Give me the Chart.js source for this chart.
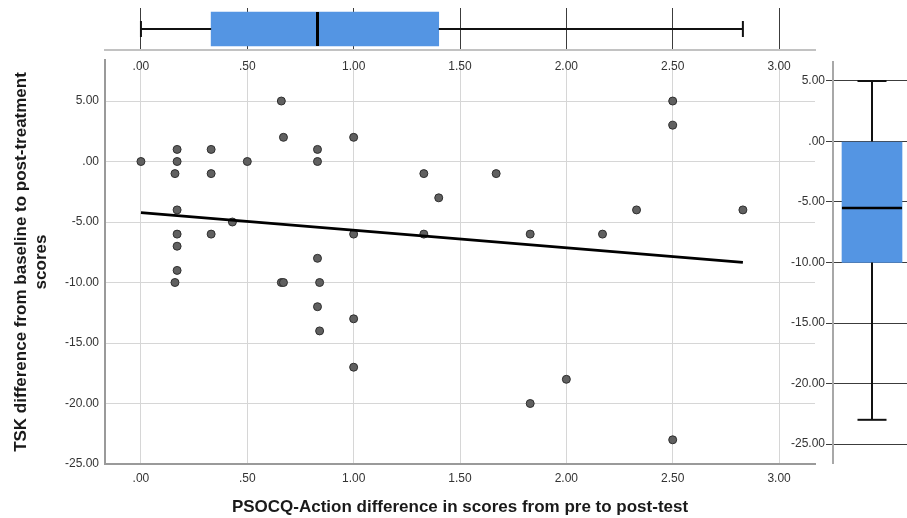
<!DOCTYPE html>
<html>
<head>
<meta charset="utf-8">
<script src="https://cdn.jsdelivr.net/npm/chart.js@4.4.0/dist/chart.umd.min.js"></script>
<style>
  html, body { margin: 0; padding: 0; background: #ffffff; overflow: hidden; width: 907px; height: 518px; }
  #wrap { position: relative; width: 907px; height: 518px; overflow: hidden; }
  canvas { position: absolute; }
</style>
</head>
<body>
<div id="wrap">
  <canvas id="main" width="907" height="518" style="left:0;top:0;"></canvas>
  <canvas id="topBox" width="907" height="90" style="left:0;top:0;"></canvas>
  <canvas id="rightBox" width="131" height="518" style="left:780px;top:0;"></canvas>
</div>
<script>
// ---------- data ----------
const psocqDiff = [0, 0.17, 0.17, 0.16, 0.17, 0.17, 0.17, 0.17, 0.16,
  0.33, 0.33, 0.33, 0.43, 0.50, 0.66, 0.67, 0.66, 0.67,
  0.83, 0.83, 0.83, 0.84, 0.83, 0.84, 1.00, 1.00, 1.00, 1.00,
  1.33, 1.33, 1.40, 1.67, 1.83, 1.83, 2.00, 2.17, 2.33,
  2.50, 2.50, 2.50, 2.83];
const tskDiff = [0, 1, 0, -1, -4, -6, -7, -9, -10,
  1, -1, -6, -5, 0, 5, 2, -10, -10,
  1, 0, -8, -10, -12, -14, 2, -6, -13, -17,
  -1, -6, -3, -1, -6, -20, -18, -6, -4,
  5, 3, -23, -4];
const fitLineX = [0, 2.83];
const fitLineY = [-4.23, -8.33];
// box statistics: [min, Q1, median, Q3, max]
const psocqBoxStats = [0, 0.33, 0.83, 1.40, 2.83];
const tskBoxStats = [-23, -10, -5.5, 0, 5];
const xTickValues = [0, 0.5, 1, 1.5, 2, 2.5, 3];
const yTickValues = [5, 0, -5, -10, -15, -20, -25];
const xAxisTitle = 'PSOCQ-Action difference in scores from pre to post-test';
const yAxisTitle = ['TSK difference from baseline to post-treatment', 'scores'];

// ---------- styling ----------
const BOX_BLUE = '#5495e3';
const TICK_FONT = { family: '"Liberation Sans", Arial, sans-serif', size: 12 };
const TITLE_FONT = { family: '"Liberation Sans", Arial, sans-serif', size: 17, weight: 'bold', lineHeight: 1.2 };
const TICK_COLOR = '#333333';
const X_MIN = -0.169, X_MAX = 3.169;

function fmt(v) {
  let s = Math.abs(v).toFixed(2);
  if (s.startsWith('0')) s = s.slice(1);
  return (v < 0 ? '-' : '') + s;
}
function setTicks(values) {
  return (scale) => { scale.ticks = values.map(v => ({ value: v })); };
}
const common = {
  responsive: false,
  animation: false,
  events: [],
  devicePixelRatio: 1,
  plugins: { legend: { display: false }, tooltip: { enabled: false }, title: { display: false } }
};

// ---------- main scatter ----------
new Chart(document.getElementById('main'), {
  type: 'scatter',
  data: {
    datasets: [
      {
        type: 'scatter',
        data: fitLineX.map((x, i) => ({ x, y: fitLineY[i] })),
        showLine: true,
        borderColor: '#000000',
        borderWidth: 2.8,
        pointRadius: 0,
        order: 0
      },
      {
        type: 'scatter',
        data: psocqDiff.map((x, i) => ({ x, y: tskDiff[i] })),
        pointRadius: 4,
        pointBackgroundColor: '#606060',
        pointBorderColor: '#2e2e2e',
        pointBorderWidth: 1,
        order: 1
      }
    ]
  },
  options: Object.assign({}, common, {
    layout: { padding: { top: 60, right: 92, left: 0, bottom: 0 } },
    scales: {
      x: {
        type: 'linear', min: X_MIN, max: X_MAX, offset: false,
        afterBuildTicks: setTicks(xTickValues),
        afterFit: (s) => { s.height = 54; },
        grid: { color: '#d6d6d6', lineWidth: 1, drawTicks: false, offset: false },
        border: { display: true, color: '#9a9a9a', width: 2 },
        ticks: { font: TICK_FONT, color: TICK_COLOR, padding: 7, maxRotation: 0, autoSkip: false, callback: (v) => fmt(v) },
        title: { display: true, text: xAxisTitle, font: TITLE_FONT, color: '#1a1a1a', padding: { top: 0, bottom: 0 } }
      },
      y: {
        type: 'linear', min: -25, max: 8.39, offset: false,
        afterBuildTicks: setTicks(yTickValues),
        afterFit: (s) => { s.width = 105; },
        grid: { color: '#d6d6d6', lineWidth: 1, drawTicks: false, offset: false },
        border: { display: true, color: '#9a9a9a', width: 2 },
        ticks: { font: TICK_FONT, color: TICK_COLOR, padding: 6, autoSkip: false, callback: (v) => fmt(v) },
        title: { display: true, text: yAxisTitle, font: TITLE_FONT, color: '#1a1a1a', padding: { top: 11, bottom: 0 } }
      }
    }
  })
});

// ---------- top boxplot (PSOCQ) ----------
const TOP_MID = 0.5, TOP_CAP = 0.19, TOP_MED = 0.405;
const [pMin, pQ1, pMed, pQ3, pMax] = psocqBoxStats;
new Chart(document.getElementById('topBox'), {
  type: 'scatter',
  data: {
    datasets: [
      { type: 'bar', indexAxis: 'y', data: [{ x: [pQ1, pQ3], y: TOP_MID }], backgroundColor: BOX_BLUE, borderWidth: 0, barThickness: 34, order: 5 },
      { type: 'scatter', showLine: true, pointRadius: 0, borderColor: '#111', borderWidth: 2, order: 2,
        data: [{ x: pMin, y: TOP_MID }, { x: pQ1, y: TOP_MID }] },
      { type: 'scatter', showLine: true, pointRadius: 0, borderColor: '#111', borderWidth: 2, order: 2,
        data: [{ x: pQ3, y: TOP_MID }, { x: pMax, y: TOP_MID }] },
      { type: 'scatter', showLine: true, pointRadius: 0, borderColor: '#111', borderWidth: 2, order: 2,
        data: [{ x: pMin, y: TOP_MID - TOP_CAP }, { x: pMin, y: TOP_MID + TOP_CAP }] },
      { type: 'scatter', showLine: true, pointRadius: 0, borderColor: '#111', borderWidth: 2, order: 2,
        data: [{ x: pMax, y: TOP_MID - TOP_CAP }, { x: pMax, y: TOP_MID + TOP_CAP }] },
      { type: 'scatter', showLine: true, pointRadius: 0, borderColor: '#000', borderWidth: 3, order: 0,
        data: [{ x: pMed, y: TOP_MID - TOP_MED }, { x: pMed, y: TOP_MID + TOP_MED }] }
    ]
  },
  options: Object.assign({}, common, {
    layout: { padding: { top: 8, right: 92, left: 105, bottom: 0 } },
    scales: {
      x: {
        type: 'linear', min: X_MIN, max: X_MAX, offset: false,
        afterBuildTicks: setTicks(xTickValues),
        afterFit: (s) => { s.height = 40; },
        grid: { color: '#3c3c3c', lineWidth: 1, drawTicks: false, offset: false },
        border: { display: true, color: '#c2c2c2', width: 2 },
        ticks: { font: TICK_FONT, color: TICK_COLOR, padding: 9, maxRotation: 0, autoSkip: false, callback: (v) => fmt(v) }
      },
      y: { type: 'linear', min: 0, max: 1, display: false, offset: false, grid: { offset: false } }
    }
  })
});

// ---------- right boxplot (TSK) ----------
const R_MID = 0.5, R_CAP = 0.186, R_MED = 0.385;
const [tMin, tQ1, tMed, tQ3, tMax] = tskBoxStats;
new Chart(document.getElementById('rightBox'), {
  type: 'scatter',
  data: {
    datasets: [
      { type: 'bar', data: [{ x: R_MID, y: [tQ1, tQ3] }], backgroundColor: BOX_BLUE, borderWidth: 0, barThickness: 60, order: 5 },
      { type: 'scatter', showLine: true, pointRadius: 0, borderColor: '#111', borderWidth: 2, order: 2,
        data: [{ x: R_MID, y: tQ3 }, { x: R_MID, y: tMax }] },
      { type: 'scatter', showLine: true, pointRadius: 0, borderColor: '#111', borderWidth: 2, order: 2,
        data: [{ x: R_MID, y: tMin }, { x: R_MID, y: tQ1 }] },
      { type: 'scatter', showLine: true, pointRadius: 0, borderColor: '#111', borderWidth: 2, order: 2,
        data: [{ x: R_MID - R_CAP, y: tMax }, { x: R_MID + R_CAP, y: tMax }] },
      { type: 'scatter', showLine: true, pointRadius: 0, borderColor: '#111', borderWidth: 2, order: 2,
        data: [{ x: R_MID - R_CAP, y: tMin }, { x: R_MID + R_CAP, y: tMin }] },
      { type: 'scatter', showLine: true, pointRadius: 0, borderColor: '#000', borderWidth: 2.5, order: 0,
        data: [{ x: R_MID - R_MED, y: tMed }, { x: R_MID + R_MED, y: tMed }] }
    ]
  },
  options: Object.assign({}, common, {
    layout: { padding: { top: 62, right: 0, left: 0, bottom: 55 } },
    scales: {
      x: { type: 'linear', min: 0, max: 1, display: false, offset: false, grid: { offset: false } },
      y: {
        type: 'linear', min: -26.57, max: 6.57, offset: false,
        afterBuildTicks: setTicks(yTickValues),
        afterFit: (s) => { s.width = 53; },
        grid: { color: '#3c3c3c', lineWidth: 1, drawTicks: true, tickLength: 7, tickColor: '#3c3c3c', offset: false },
        border: { display: true, color: '#a8a8a8', width: 2 },
        ticks: { font: TICK_FONT, color: TICK_COLOR, padding: 1, autoSkip: false, callback: (v) => fmt(v) }
      }
    }
  })
});
</script>
</body>
</html>
